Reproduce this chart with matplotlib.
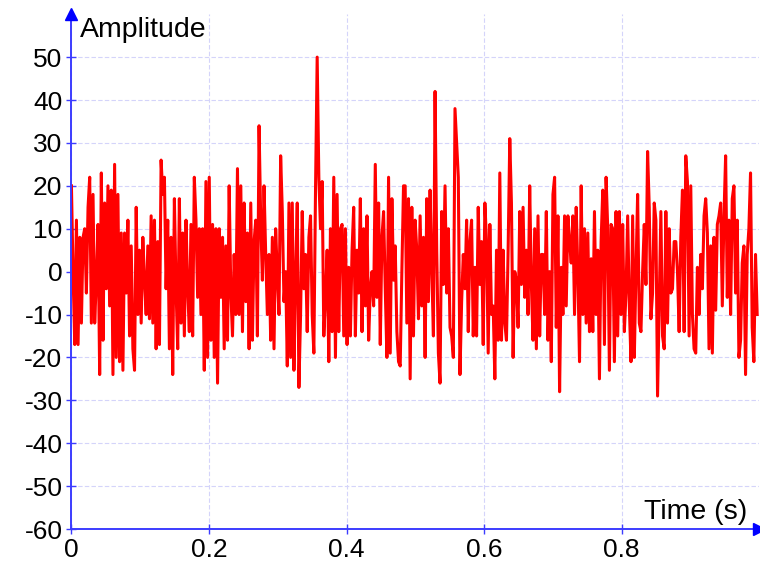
import numpy as np
import matplotlib
matplotlib.use("Agg")
import matplotlib.pyplot as plt

plt.rcParams['font.family'] = ['Liberation Sans', 'DejaVu Sans']
plt.rcParams['axes.unicode_minus'] = False

# amplitude samples, left to right
seg1 = [20, -1, -17, 12, -17, 8, -12, 8, 10, -5, 15, 22, -12, 18, -12, -2, 11, -24, 23, -16,
        16, -4, 20, -8, 19, -24, 25, -20, 18, -21, 9, -23, 9, -5, 12, -15, 6, -18]
seg2 = [-23, 15, -10, 5, -12, 8, -2, -10, 6, -11, 13, -12, 12, -18, 7, -17, 26, 18, 22, -4,
        12, -18, 8, -24, 17, -4, -18, 17, -12, 9, -15, 12, -4, -14, 11, -15, 22, 12, -6, 10, -10]
seg3 = [10, -23, 21, -20, 22, -16, 11, -20, 10, -26, 10, -6, 8, -18, 6, -16, 20, -5, -15, 4,
        -10, 24, -10, 20, -14, 16, -7, 9, -18, 16, -16, 7, 12, -15, 34, 12, -2, 20, 4, -10]
seg4 = [4, -16, 8, -18, 10, -1, -10, 27, 14, -7, 0, -22, 16, -20, 16, -23, -1, 16, -27, -10,
        14, -4, 4, -14, 8, 13, -10, -19, 19, 50, 22, 10, 21, -15, -6, 5, -21, 10, -14, 22, -20, 18, -14, 10]
seg5 = [11, -15, 10, -17, 1, -15, 5, 15, -15, 5, -5, 17, -14, 10, -8, 13, -16, -4, 0, -8,
        25, -6, 16, -17, 8, 14, -4, -20, 22, -19, 17, -2, 6, -14, -21, -22, 0, 20]
seg6 = [20, -12, 17, -25, 15, -15, 12, 5, -11, 13, -8, 8, -20, 17, -7, 19, 1, -15, 42, 5,
        -19, -26, 14, -3, 20, -5, 10, -13, -15, -20, 38, 30, 22, -24, -7, 4, -4, 12, -14, 7, 12, -15]
seg7 = [1, -15, 15, -3, 7, -17, 16, 7, -19, 11, -10, -8, -25, 5, -16, 23, -16, 5, -12, -16,
        5, 31, 16, -20, 0, -2, -13, 14, -3, 15, -6, 5, -10, 20, -3, -16, 10, -18, 13, -15, 4]
seg8 = [4, -10, 14, -16, 0, -21, 18, 22, -13, 13, -28, 1, -10, 13, -8, 13, 7, 2, 13, -10,
        15, 0, -21, 20, -10, 10, -12, 9, -14, 3, -14, 14, -10, 5, -25, 7, 19, -17, 22, 10, -23, 11]
seg9 = [10, -21, 14, -15, 14, -10, 11, -14, -5, 13, -8, -21, 13, -20, 0, 18, -12, -14, 0, 11,
        -3, 28, 15, -11, -5, 16, 12, -29, -8, 14, -15, -18, 14, -12, 10, -5, -4, 7]
seg10 = [7, 0, -14, 8, 19, -14, 27, 21, -15, 20, -10, -18, -19, 1, -10, 4, -4, 13, 17, 9,
         -18, 6, -19, 8, -9, 11, 13, 16, -8, 13, 27, -6, 12, -10, 17, 20, -5, 12, -20, -16,
         2, 6, -24, 4, 10, 23, -13, -21, 4, -10]

amplitude = np.array(seg1 + seg2 + seg3 + seg4 + seg5 + seg6 + seg7 + seg8 + seg9 + seg10, dtype=float)
duration = 0.997
time = np.linspace(0, duration, len(amplitude))

x_ticks = [0, 0.2, 0.4, 0.6, 0.8]
x_tick_labels = ["0", "0.2", "0.4", "0.6", "0.8"]
y_ticks = list(range(-60, 51, 10))

axis_blue = '#3c3cff'
grid_blue = '#d4d4fa'

fig = plt.figure(figsize=(7.6, 5.62), dpi=100)
ax = fig.add_axes([0.094, 0.0587, 0.905, 0.916])

ax.plot(time, amplitude, color='red', linewidth=2.2, zorder=3)

ax.set_xlim(0, 1.0)
ax.set_ylim(-60, 60)
ax.set_xticks(x_ticks)
ax.set_xticklabels(x_tick_labels)
ax.set_yticks(y_ticks)

ax.grid(True, color=grid_blue, linestyle=(0, (4, 2)), linewidth=0.8, zorder=0)
for side in ['top', 'right']:
    ax.spines[side].set_visible(False)
for side in ['left', 'bottom']:
    ax.spines[side].set_color(axis_blue)
    ax.spines[side].set_linewidth(1.4)
    ax.spines[side].set_zorder(4)

ax.tick_params(axis='both', direction='inout', length=7, width=1.0, color=axis_blue,
               labelsize=19, labelcolor='black', pad=3)

# arrow heads on the axis ends
ax.plot(1.0, 0, marker='>', color='blue', markersize=9, transform=ax.transAxes, clip_on=False, zorder=5)
ax.plot(0, 1.0, marker='^', color='blue', markersize=9, transform=ax.transAxes, clip_on=False, zorder=5)

ax.text(0.012, 0.994, "Amplitude", transform=ax.transAxes, fontsize=20.5, ha='left', va='top')
ax.text(0.983, 0.008, "Time (s)", transform=ax.transAxes, fontsize=20.5, ha='right', va='bottom')

fig.savefig("out.png", dpi=100)
